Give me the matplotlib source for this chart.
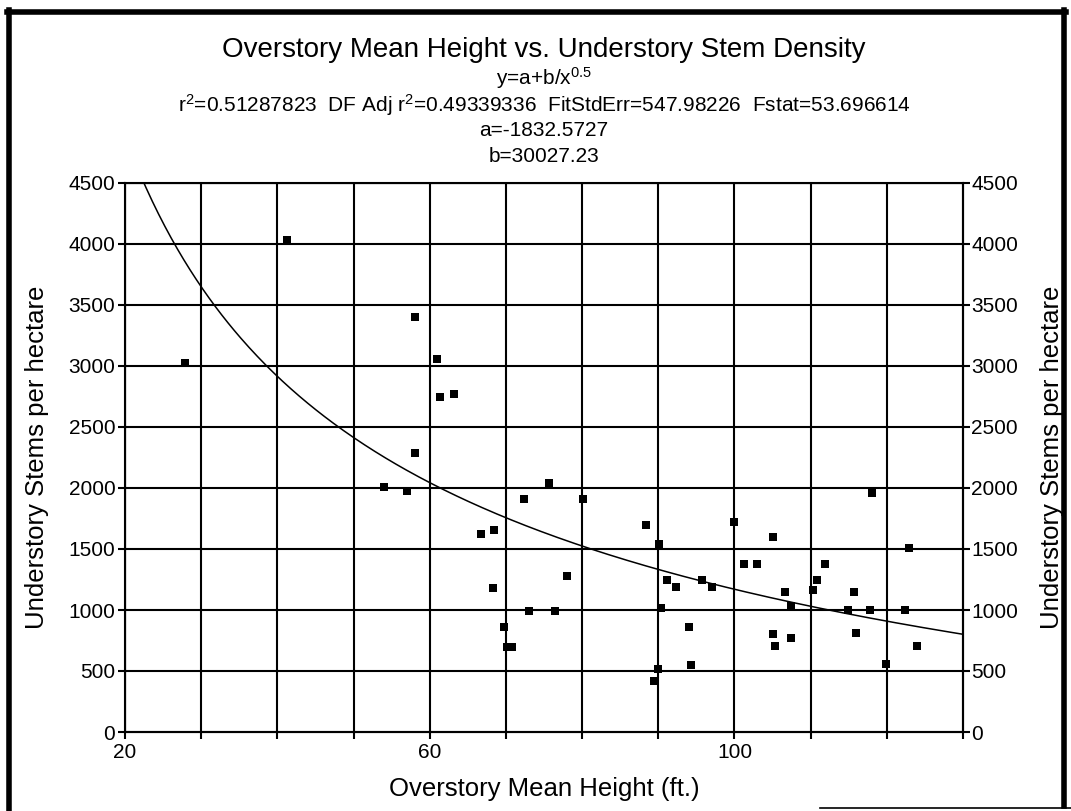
import matplotlib
matplotlib.use("Agg")
import matplotlib.pyplot as plt
import numpy as np
from matplotlib.lines import Line2D
from matplotlib.ticker import FixedLocator, FuncFormatter

plt.rcParams["font.family"] = ["Liberation Sans", "DejaVu Sans"]
plt.rcParams["mathtext.default"] = "regular"

# Data (height in ft, stems per hectare)
HEIGHT = [27.9, 41.3, 58.1, 61.0, 61.3, 63.2, 58.1, 54.0, 57.0, 75.6,
          72.4, 80.1, 66.7, 68.4, 88.4, 90.1, 68.3, 78.0, 91.1, 92.3,
          95.8, 97.0, 90.4, 73.0, 76.4, 69.7, 70.2, 70.8, 94.0, 94.3,
          89.9, 89.4, 118.0, 99.9, 105.0, 122.9, 101.3, 102.9, 111.9, 110.9,
          110.3, 106.7, 115.7, 107.4, 114.9, 117.8, 122.4, 105.0, 105.3, 107.4,
          116.0, 119.9, 123.9]
STEMS = [3025, 4030, 3400, 3055, 2745, 2770, 2290, 2005, 1975, 2045,
         1910, 1910, 1625, 1655, 1695, 1540, 1180, 1275, 1245, 1185,
         1245, 1190, 1020, 990, 990, 860, 695, 695, 860, 550,
         515, 420, 1955, 1725, 1600, 1510, 1375, 1375, 1375, 1245,
         1160, 1145, 1150, 1030, 1000, 1000, 1000, 805, 705, 770,
         810, 555, 705]

# fitted model y = a + b / x^0.5
FIT_A = -1832.5727
FIT_B = 30027.23

X_MIN, X_MAX = 20, 130
Y_TICKS = list(range(0, 4501, 500))
X_TICKS = list(range(20, 131, 10))
X_LABELED = [20, 60, 100]

W, H = 1071, 811
fig = plt.figure(figsize=(W / 100, H / 100), dpi=100)
fig.patch.set_facecolor("white")

# outer frame (scan border)
frame_kw = dict(color="black", transform=fig.transFigure)
fig.add_artist(Line2D([9 / W, 9 / W], [1 - 10 / H, 0], lw=4, **frame_kw))
fig.add_artist(Line2D([7 / W, 1066 / W], [1 - 12 / H, 1 - 12 / H], lw=4, **frame_kw))
fig.add_artist(Line2D([1064 / W, 1064 / W], [1 - 10 / H, 1 - 806 / H], lw=4, **frame_kw))
fig.add_artist(Line2D([820 / W, 1071 / W], [1 - 808 / H, 1 - 808 / H], lw=1.2, **frame_kw))

ax = fig.add_axes([125 / W, 1 - 732 / H, (963 - 125) / W, (732 - 183) / H])
ax.set_xlim(X_MIN, X_MAX)
ax.set_ylim(0, 4500)

ax.scatter(HEIGHT, STEMS, marker="s", s=30, color="black", zorder=3, linewidths=0)

xs = np.linspace(X_MIN, X_MAX, 400)
ax.plot(xs, FIT_A + FIT_B / np.sqrt(xs), color="black", lw=1.1, zorder=2)

ax.xaxis.set_major_locator(FixedLocator(X_TICKS))
ax.xaxis.set_major_formatter(FuncFormatter(lambda v, p: f"{v:g}" if round(v) in X_LABELED else ""))
ax.yaxis.set_major_locator(FixedLocator(Y_TICKS))
ax.grid(True, color="black", lw=1.5)
ax.set_axisbelow(True)
for s in ax.spines.values():
    s.set_linewidth(1.5)
ax.tick_params(axis="both", direction="out", length=5, width=1.5, labelsize=15)
ax.tick_params(axis="y", pad=2)
ax.tick_params(axis="x", pad=3)

ax2 = ax.twinx()
ax2.set_ylim(0, 4500)
ax2.yaxis.set_major_locator(FixedLocator(Y_TICKS))
ax2.tick_params(axis="y", direction="out", length=5, width=1.5, labelsize=15, pad=1)

ax.set_xlabel("Overstory Mean Height (ft.)", fontsize=18.5)
ax.xaxis.set_label_coords(0.5, -0.082)
ax.set_ylabel("Understory Stems per hectare", fontsize=18.5)
ax.yaxis.set_label_coords(-0.091, 0.5)
ax2.set_ylabel("Understory Stems per hectare", fontsize=18.5)
ax2.yaxis.set_label_coords(1.092, 0.5)

cx = 544 / W
fig.text(cx, 1 - 50 / H, "Overstory Mean Height vs. Understory Stem Density",
         ha="center", va="center", fontsize=20)
fig.text(cx, 1 - 78 / H, "y=a+b/x$^{0.5}$", ha="center", va="center", fontsize=15)
fig.text(cx, 1 - 105 / H,
         "r$^{2}$=0.51287823  DF Adj r$^{2}$=0.49339336  FitStdErr=547.98226  Fstat=53.696614",
         ha="center", va="center", fontsize=15)
fig.text(cx, 1 - 131 / H, "a=-1832.5727", ha="center", va="center", fontsize=15)
fig.text(cx, 1 - 156 / H, "b=30027.23", ha="center", va="center", fontsize=15)

fig.savefig("out.png", dpi=100)
